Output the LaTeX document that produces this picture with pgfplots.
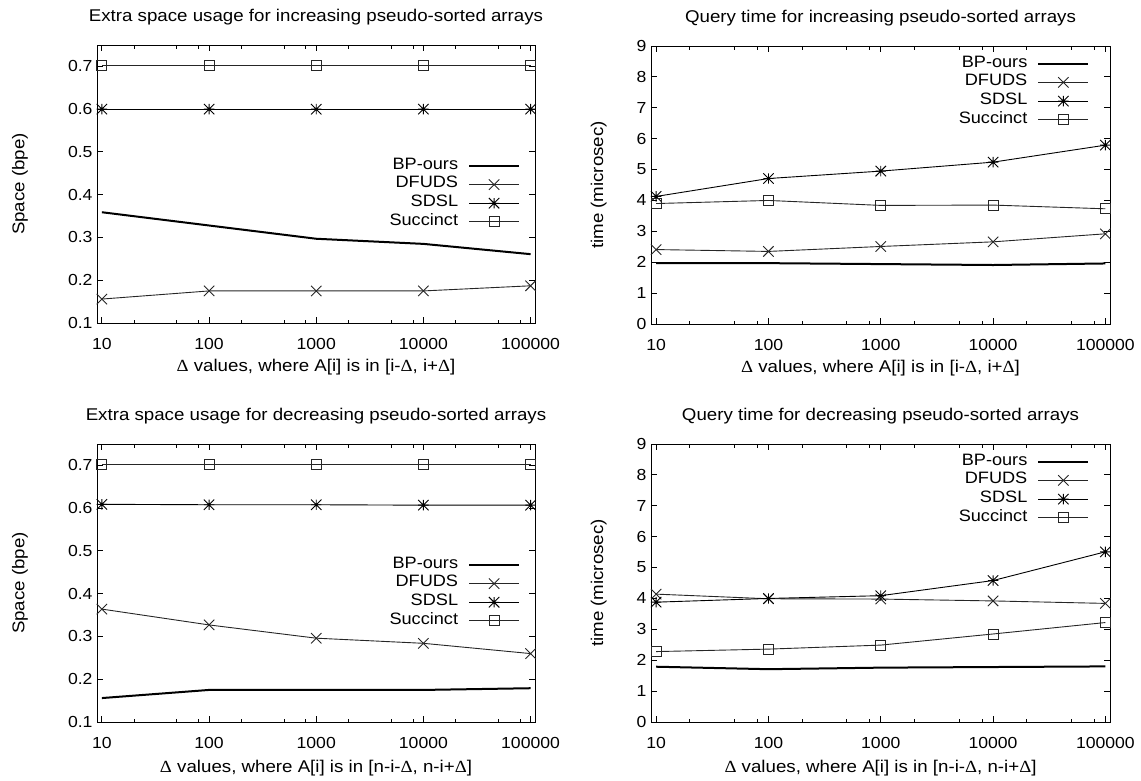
\documentclass[border=0pt]{standalone}
\usepackage{fontspec}
\setmainfont{Liberation Sans}[FakeStretch=1.1]
\newfontfamily\symfont{Liberation Serif}[FakeStretch=1.1]
\usepackage{pgfplots}
\pgfplotsset{compat=1.18}
\newcommand{\D}{{\symfont Δ}}

\pgfdeclareplotmark{gpx}{%
 \pgfpathmoveto{\pgfqpoint{-\pgfplotmarksize}{-\pgfplotmarksize}}%
 \pgfpathlineto{\pgfqpoint{\pgfplotmarksize}{\pgfplotmarksize}}%
 \pgfpathmoveto{\pgfqpoint{-\pgfplotmarksize}{\pgfplotmarksize}}%
 \pgfpathlineto{\pgfqpoint{\pgfplotmarksize}{-\pgfplotmarksize}}%
 \pgfusepathqstroke}
\pgfdeclareplotmark{gpstar}{%
 \pgfpathmoveto{\pgfqpoint{-\pgfplotmarksize}{-\pgfplotmarksize}}%
 \pgfpathlineto{\pgfqpoint{\pgfplotmarksize}{\pgfplotmarksize}}%
 \pgfpathmoveto{\pgfqpoint{-\pgfplotmarksize}{\pgfplotmarksize}}%
 \pgfpathlineto{\pgfqpoint{\pgfplotmarksize}{-\pgfplotmarksize}}%
 \pgfpathmoveto{\pgfqpoint{-\pgfplotmarksize}{0pt}}%
 \pgfpathlineto{\pgfqpoint{\pgfplotmarksize}{0pt}}%
 \pgfpathmoveto{\pgfqpoint{0pt}{-\pgfplotmarksize}}%
 \pgfpathlineto{\pgfqpoint{0pt}{\pgfplotmarksize}}%
 \pgfusepathqstroke}

\pgfplotsset{
 every axis/.append style={
  scale only axis, height=278pt,
  xtick={10,100,1000,10000,100000},
  xticklabels={10,100,1000,10000,100000},
  minor xtick={20,50,80,200,500,800,2000,5000,8000,20000,50000,80000},
  axis line style={line width=1pt},
  every tick/.style={black, line width=0.9pt},
  major tick length=6pt, minor tick length=3.5pt,
  tick align=inside,
  ticklabel style={font=\fontsize{16}{19}\selectfont},
  /pgf/number format/assume math mode=true,
  title style={font=\fontsize{17}{20}\selectfont, anchor=center, at={(axis description cs:0.5,1.078)}},
  label style={font=\fontsize{17}{20}\selectfont},
  xticklabel style={yshift=-12pt},
  yticklabel style={xshift=-1pt},
  legend cell align=right,
  legend plot pos=right,
  legend style={draw=none, fill=none, font=\fontsize{16.5}{19}\selectfont, row sep=0pt, column sep=10pt, inner sep=0pt, outer sep=0pt, anchor=north east, nodes={inner sep=0pt, text height=12.7pt, text depth=6pt}},
 },
 legend image code/.code={\draw[mark repeat=2,mark phase=2,#1] plot coordinates {(0pt,0pt) (25pt,0pt) (50pt,0pt)};},
}

\begin{document}
\begin{tikzpicture}
\path[use as bounding box] (0,0) rectangle (1141pt,-780pt);

% Top-left
\begin{axis}[xmode=log, xmin=9, xmax=110000,
  width=438pt, ymin=0.1, ymax=0.75,
  ytick={0.1,0.2,0.3,0.4,0.5,0.6,0.7},
  yticklabels={0.1,0.2,0.3,0.4,0.5,0.6,0.7},
  ylabel={Space (bpe)},
  ylabel style={at={(axis description cs:-0.176,0.5)}, anchor=center},
  xlabel style={at={(axis description cs:0.5,-0.16)}, anchor=center},
  legend style={at={(axis description cs:0.966,0.599)}},
  at={(97pt,-323pt)}, anchor=south west,
  title={Extra space usage for increasing pseudo-sorted arrays},
  xlabel={\D{} values, where A[i] is in [i-\D, i+\D]}]
\addplot[black, line width=2pt, no markers] coordinates {(10,0.359) (100,0.328) (1000,0.297) (10000,0.285) (100000,0.261)};
\addlegendentry{BP-ours}
\addplot[black!85, line width=0.9pt, mark=gpx, mark size=5.2pt, mark options={solid}] coordinates {(10,0.156) (100,0.175) (1000,0.175) (10000,0.175) (100000,0.187)};
\addlegendentry{DFUDS}
\addplot[black, line width=0.9pt, mark=gpstar, mark size=5.2pt, mark options={solid}] coordinates {(10,0.600) (100,0.600) (1000,0.600) (10000,0.600) (100000,0.600)};
\addlegendentry{SDSL}
\addplot[black!85, line width=0.9pt, mark=square, mark size=5pt, mark options={solid}] coordinates {(10,0.702) (100,0.702) (1000,0.702) (10000,0.702) (100000,0.702)};
\addlegendentry{Succinct}
\end{axis}

% Top-right
\begin{axis}[xmode=log, xmin=9, xmax=110000,
  width=459pt, ymin=0, ymax=9,
  ytick={0,1,2,3,4,5,6,7,8,9},
  yticklabels={0,1,2,3,4,5,6,7,8,9},
  ylabel={time (microsec)},
  ylabel style={at={(axis description cs:-0.114,0.5)}, anchor=center},
  xlabel style={at={(axis description cs:0.5,-0.16)}, anchor=center},
  legend style={at={(axis description cs:0.955,0.970)}},
  at={(651pt,-324pt)}, anchor=south west,
  title={Query time for increasing pseudo-sorted arrays},
  xlabel={\D{} values, where A[i] is in [i-\D, i+\D]}]
\addplot[black, line width=2pt, no markers] coordinates {(10,1.97) (100,1.97) (1000,1.94) (10000,1.91) (100000,1.96)};
\addlegendentry{BP-ours}
\addplot[black!85, line width=0.9pt, mark=gpx, mark size=5.2pt, mark options={solid}] coordinates {(10,2.41) (100,2.35) (1000,2.51) (10000,2.66) (100000,2.92)};
\addlegendentry{DFUDS}
\addplot[black, line width=0.9pt, mark=gpstar, mark size=5.2pt, mark options={solid}] coordinates {(10,4.13) (100,4.71) (1000,4.95) (10000,5.24) (100000,5.79)};
\addlegendentry{SDSL}
\addplot[black!85, line width=0.9pt, mark=square, mark size=5pt, mark options={solid}] coordinates {(10,3.90) (100,4.00) (1000,3.84) (10000,3.85) (100000,3.73)};
\addlegendentry{Succinct}
\end{axis}

% Bottom-left
\begin{axis}[xmode=log, xmin=9, xmax=110000,
  width=438pt, ymin=0.1, ymax=0.75,
  ytick={0.1,0.2,0.3,0.4,0.5,0.6,0.7},
  yticklabels={0.1,0.2,0.3,0.4,0.5,0.6,0.7},
  ylabel={Space (bpe)},
  ylabel style={at={(axis description cs:-0.176,0.5)}, anchor=center},
  xlabel style={at={(axis description cs:0.5,-0.166)}, anchor=center},
  legend style={at={(axis description cs:0.966,0.599)}},
  at={(97pt,-722pt)}, anchor=south west,
  title={Extra space usage for decreasing pseudo-sorted arrays},
  xlabel={\D{} values, where A[i] is in [n-i-\D, n-i+\D]}]
\addplot[black, line width=2pt, no markers] coordinates {(10,0.156) (100,0.175) (1000,0.175) (10000,0.175) (100000,0.179)};
\addlegendentry{BP-ours}
\addplot[black!85, line width=0.9pt, mark=gpx, mark size=5.2pt, mark options={solid}] coordinates {(10,0.364) (100,0.327) (1000,0.296) (10000,0.284) (100000,0.260)};
\addlegendentry{DFUDS}
\addplot[black, line width=0.9pt, mark=gpstar, mark size=5.2pt, mark options={solid}] coordinates {(10,0.609) (100,0.608) (1000,0.608) (10000,0.607) (100000,0.607)};
\addlegendentry{SDSL}
\addplot[black!85, line width=0.9pt, mark=square, mark size=5pt, mark options={solid}] coordinates {(10,0.702) (100,0.702) (1000,0.702) (10000,0.702) (100000,0.702)};
\addlegendentry{Succinct}
\end{axis}

% Bottom-right
\begin{axis}[xmode=log, xmin=9, xmax=110000,
  width=459pt, ymin=0, ymax=9,
  ytick={0,1,2,3,4,5,6,7,8,9},
  yticklabels={0,1,2,3,4,5,6,7,8,9},
  ylabel={time (microsec)},
  ylabel style={at={(axis description cs:-0.114,0.5)}, anchor=center},
  xlabel style={at={(axis description cs:0.5,-0.166)}, anchor=center},
  legend style={at={(axis description cs:0.955,0.970)}},
  at={(651pt,-722pt)}, anchor=south west,
  title={Query time for decreasing pseudo-sorted arrays},
  xlabel={\D{} values, where A[i] is in [n-i-\D, n-i+\D]}]
\addplot[black, line width=2pt, no markers] coordinates {(10,1.79) (100,1.71) (1000,1.76) (10000,1.78) (100000,1.80)};
\addlegendentry{BP-ours}
\addplot[black!85, line width=0.9pt, mark=gpx, mark size=5.2pt, mark options={solid}] coordinates {(10,4.14) (100,3.99) (1000,3.98) (10000,3.92) (100000,3.84)};
\addlegendentry{DFUDS}
\addplot[black, line width=0.9pt, mark=gpstar, mark size=5.2pt, mark options={solid}] coordinates {(10,3.88) (100,4.00) (1000,4.09) (10000,4.58) (100000,5.51)};
\addlegendentry{SDSL}
\addplot[black!85, line width=0.9pt, mark=square, mark size=5pt, mark options={solid}] coordinates {(10,2.28) (100,2.36) (1000,2.49) (10000,2.85) (100000,3.22)};
\addlegendentry{Succinct}
\end{axis}
\end{tikzpicture}
\end{document}
